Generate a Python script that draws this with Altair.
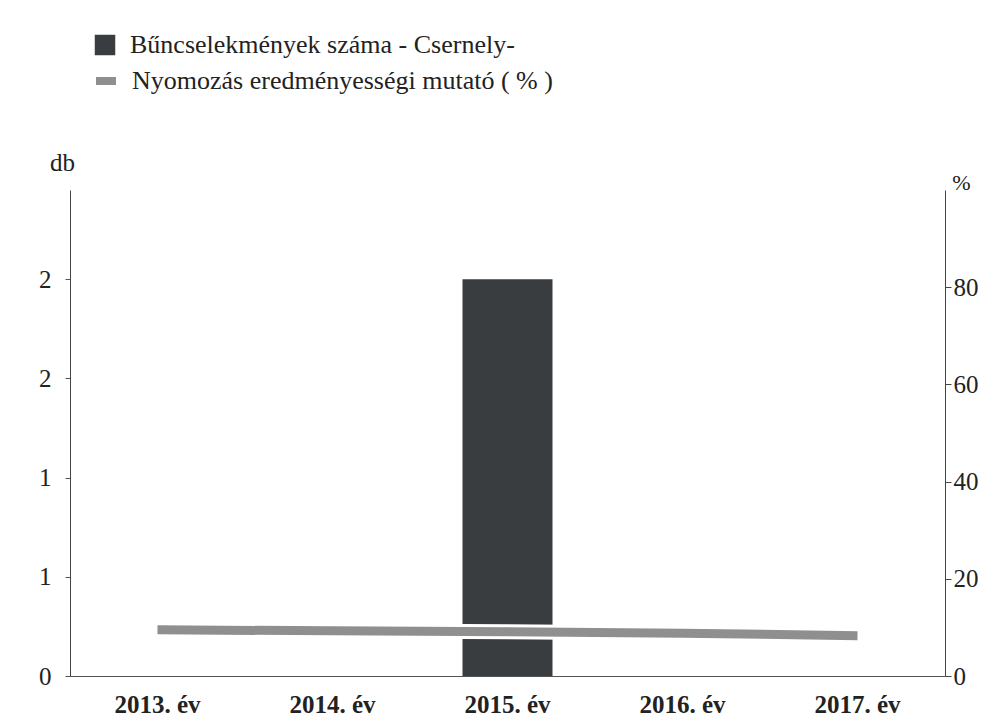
import altair as alt
import pandas as pd

years = ["2013. év", "2014. év", "2015. év", "2016. év", "2017. év"]
crimes = [0, 0, 2, 0, 0]
rate = [9.5, 9.3, 9.1, 8.8, 8.3]
bar_label = "Bűncselekmények száma - Csernely-"
line_label = "Nyomozás eredményességi mutató ( % )"
left_ticks = [0, 0.5, 1, 1.5, 2]
right_ticks = [0, 20, 40, 60, 80]

df = pd.DataFrame({
    "year": years,
    "crimes": crimes,
    "rate": rate,
    "s1": [bar_label] * len(years),
    "s2": [line_label] * len(years),
})

FONT = "Liberation Serif, Times New Roman, serif"
INK = "#222222"

x = alt.X(
    "year:N", sort=years,
    scale=alt.Scale(paddingInner=0, paddingOuter=0),
    axis=alt.Axis(title=None, labelAngle=0, labelFont=FONT, labelFontSize=25,
                  labelFontWeight="bold", labelColor=INK, ticks=False,
                  domainColor="#555555", labelPadding=16),
)

bars = alt.Chart(df).mark_bar(size=90).encode(
    x=x,
    y=alt.Y("crimes:Q",
            scale=alt.Scale(domain=[0, 2.45], nice=False, zero=True),
            axis=alt.Axis(title="db", orient="left", values=left_ticks, format=".0f",
                          grid=False, labelFont=FONT, labelFontSize=25, labelColor=INK,
                          labelPadding=14, tickSize=5, tickColor="#555555",
                          domainColor="#444444",
                          titleAngle=0, titleX=-8, titleY=-28, titleAlign="center",
                          titleBaseline="middle", titleFont=FONT, titleFontSize=25,
                          titleFontWeight="normal", titleColor=INK)),
    color=alt.Color("s1:N", scale=alt.Scale(range=["#3a3d3f"]),
                    legend=alt.Legend(title=None, orient="none", legendX=22, legendY=-158,
                                      symbolType="square", symbolSize=420,
                                      symbolStrokeWidth=0, labelFont=FONT,
                                      labelFontSize=26, labelColor=INK, labelOffset=12,
                                      padding=0, labelLimit=600)),
)

right_axis = alt.Axis(title="%", orient="right", values=right_ticks, grid=False,
                      labelFont=FONT, labelFontSize=25, labelColor=INK, labelPadding=2,
                      tickSize=6, tickColor="#444444", domainColor="#444444",
                      titleAngle=0, titleX=16, titleY=-8, titleAlign="center",
                      titleBaseline="middle", titleFont=FONT, titleFontSize=22,
                      titleFontWeight="normal", titleColor=INK)
yr = alt.Y("rate:Q", scale=alt.Scale(domain=[0, 100], nice=False), axis=right_axis)

halo = alt.Chart(df).mark_line(strokeWidth=15, color="white").encode(x=x, y=yr)
line = alt.Chart(df).mark_line(strokeWidth=9).encode(
    x=x, y=yr,
    stroke=alt.Stroke("s2:N", scale=alt.Scale(range=["#8f8f8f"]),
                      legend=alt.Legend(title=None, orient="none", legendX=22, legendY=-123,
                                        symbolType="stroke", symbolSize=400,
                                        symbolStrokeWidth=8, labelFont=FONT,
                                        labelFontSize=26, labelColor=INK, labelOffset=12,
                                        padding=0, labelLimit=600)),
)

chart = alt.layer(bars, alt.layer(halo, line)).resolve_scale(y="independent").properties(
    width=875, height=486,
    padding={"left": 62, "top": 182, "right": 40, "bottom": 43},
    autosize=alt.AutoSizeParams(type="none"),
    background="white",
).configure_view(stroke=None)

chart.save("out.html", embed_options={"renderer": "svg", "actions": False})
